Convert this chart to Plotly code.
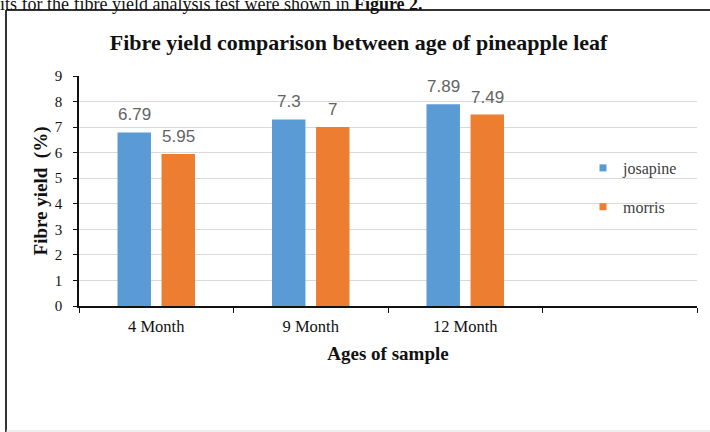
import plotly.graph_objects as go

# ---- data ----
categories = ["4 Month", "9 Month", "12 Month", " "]
bar_categories = ["4 Month", "9 Month", "12 Month"]
josapine = [6.79, 7.3, 7.89]
morris = [5.95, 7.0, 7.49]
y_ticks = [0, 1, 2, 3, 4, 5, 6, 7, 8, 9]

# ---- layout geometry ----
W, H = 710, 432
L, R, T, B = 79, 13, 76, 126
PW, PH = W - L - R, H - T - B
BARGAP, GROUPGAP = 0.43, 0.24

def px_x(px):
    return (px - L) / PW

def px_y(py):
    return (H - B - py) / PH

BLUE = "#5B9BD5"
ORANGE = "#ED7D31"
SERIF = "Liberation Serif"
SANS = "Liberation Sans"

fig = go.Figure()
fig.add_trace(go.Bar(x=bar_categories, y=josapine, name="josapine",
                     marker=dict(color=BLUE, line=dict(width=0)),
                     showlegend=False, legendgroup="j"))
fig.add_trace(go.Bar(x=bar_categories, y=morris, name="morris",
                     marker=dict(color=ORANGE, line=dict(width=0)),
                     showlegend=False, legendgroup="m"))
# legend entries with small square symbols
fig.add_trace(go.Scatter(x=[None], y=[None], mode="markers", name="josapine",
                         marker=dict(symbol="square", size=7, color=BLUE),
                         legendgroup="j"))
fig.add_trace(go.Scatter(x=[None], y=[None], mode="markers", name="morris",
                         marker=dict(symbol="square", size=7, color=ORANGE),
                         legendgroup="m"))

# data labels above the bars
cat_px = PW / len(categories)
slot = (1 - BARGAP) / 2 * cat_px
annotations = []
for series, sign in ((josapine, -1), (morris, 1)):
    for c, v in zip(bar_categories, series):
        annotations.append(dict(x=c, y=v, xref="x", yref="y", text=f"{v:g}",
                                showarrow=False, yanchor="bottom",
                                xshift=sign * slot / 2, yshift=6,
                                font=dict(family=SANS, size=17, color="#636363")))

# caption fragment at top of page (cut off)
annotations.append(dict(x=px_x(-2), y=px_y(16), xref="paper", yref="paper",
                        xanchor="left", yanchor="bottom", showarrow=False,
                        text="its for the fibre yield analysis test were shown in <b>Figure 2.</b>",
                        font=dict(family=SERIF, size=18, color="#111111")))

shapes = [
    dict(type="line", xref="paper", yref="paper", x0=px_x(6), x1=px_x(6),
         y0=px_y(432), y1=px_y(10), line=dict(color="#333333", width=2)),
    dict(type="line", xref="paper", yref="paper", x0=px_x(6), x1=px_x(712),
         y0=px_y(10), y1=px_y(10), line=dict(color="#333333", width=2)),
    dict(type="line", xref="paper", yref="paper", x0=px_x(6), x1=px_x(712),
         y0=px_y(431), y1=px_y(431), line=dict(color="#dddddd", width=1)),
]

fig.update_layout(
    width=W, height=H,
    margin=dict(l=L, r=R, t=T, b=B, pad=0),
    paper_bgcolor="white", plot_bgcolor="white",
    barmode="group", bargap=BARGAP, bargroupgap=GROUPGAP,
    title=dict(text="<b>Fibre yield comparison between age of pineapple leaf</b>",
               x=0.505, xref="container", xanchor="center",
               y=1 - 42 / H, yref="container", yanchor="middle",
               font=dict(family=SERIF, size=22, color="#111111")),
    xaxis=dict(type="category", categoryorder="array", categoryarray=categories,
               range=[-0.5, len(categories) - 0.5],
               showgrid=False, showline=True, linecolor="#111111", linewidth=1.5,
               ticks="outside", tickson="boundaries", ticklen=5, tickcolor="#111111",
               ticklabelstandoff=4,
               tickfont=dict(family=SERIF, size=16.5, color="#111111"),
               title=dict(text="<b>Ages of sample</b>", standoff=12,
                          font=dict(family=SERIF, size=19, color="#111111")),
               zeroline=False, fixedrange=True, automargin=False),
    yaxis=dict(range=[0, 9], tickvals=y_ticks, showgrid=True, gridcolor="#D9D9D9",
               gridwidth=1, showline=True, linecolor="#111111", linewidth=1.5,
               ticks="outside", ticklen=4, tickcolor="#111111",
               ticklabelstandoff=8,
               tickfont=dict(family=SERIF, size=15, color="#111111"),
               title=dict(text="<b>Fibre yield  (%)</b>", standoff=2,
                          font=dict(family=SERIF, size=19, color="#111111")),
               zeroline=False, fixedrange=True, automargin=False),
    legend=dict(x=px_x(583), y=px_y(151), xanchor="left", yanchor="top",
                bgcolor="rgba(0,0,0,0)", tracegroupgap=15,
                font=dict(family=SERIF, size=16, color="#404040")),
    annotations=annotations,
    shapes=shapes,
)

fig.write_html("out.html",
               config={"displayModeBar": False},
               post_script="document.body.style.margin='0px';document.body.style.overflow='hidden';")
